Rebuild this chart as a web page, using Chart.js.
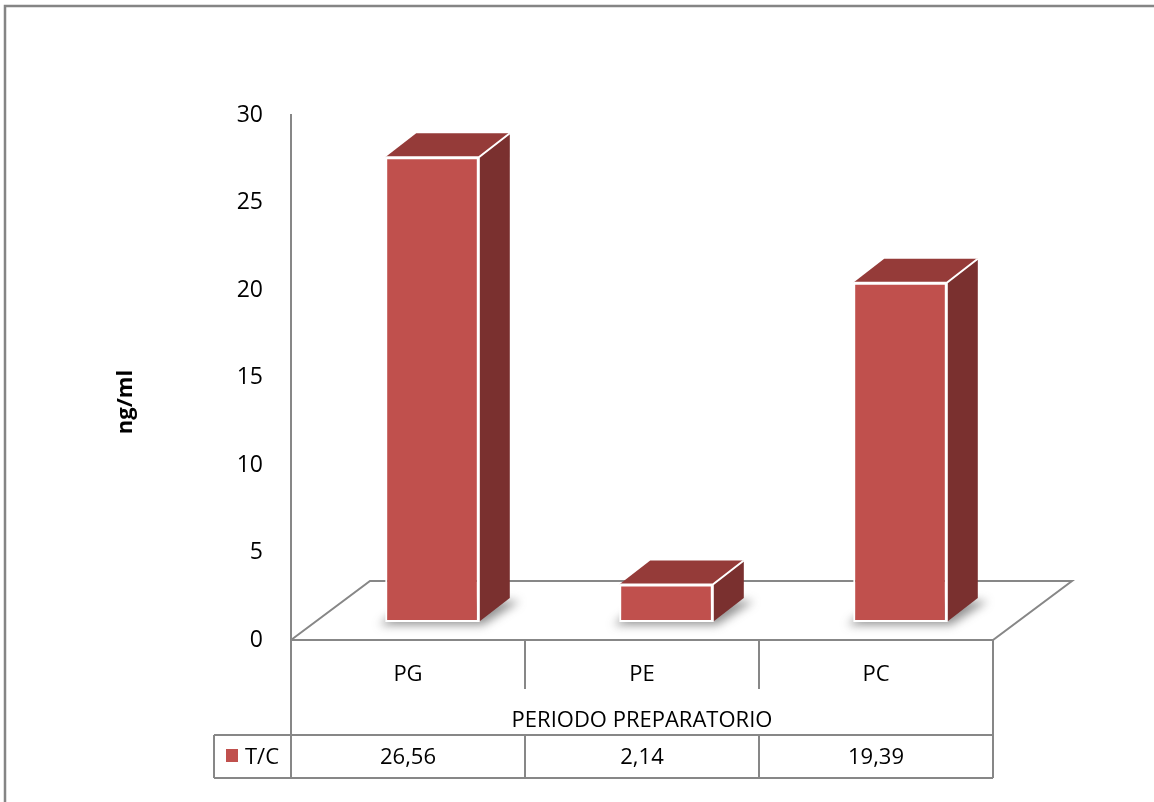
<!DOCTYPE html>
<html><head><meta charset="utf-8">
<script src="https://cdn.jsdelivr.net/npm/chart.js@4.4.1/dist/chart.umd.min.js"></script>
<style>html,body{margin:0;padding:0;background:#fff;overflow:hidden}#wrap{width:1154px;height:802px;position:relative}</style>
</head><body><div id="wrap"><canvas id="c" width="1154" height="802"></canvas></div>
<script>
// ---- data ----
const categories = ['PG', 'PE', 'PC'];
const groupLabel = 'PERIODO PREPARATORIO';
const seriesName = 'T/C';
const seriesValues = [26.56, 2.14, 19.39];
const yTicks = [0, 5, 10, 15, 20, 25, 30];
const yTitle = 'ng/ml';

// ---- style ----
const FONT = "'Open Sans', 'Liberation Sans', sans-serif";
const FRONT = '#C0504D', TOP = '#953B39', SIDE = '#7A302F';
const LINE = '#878787';
const D = { fx: 24, fy: -18, dx: 31, dy: -24, floorX: 79, floorY: -59 };
const fmt = v => v.toFixed(2).replace('.', ',');

const bar3d = {
  id: 'bar3d',
  beforeDatasetsDraw(chart) {
    const ctx = chart.ctx, a = chart.chartArea;
    ctx.save();
    ctx.strokeStyle = LINE; ctx.lineWidth = 2;
    ctx.beginPath();
    ctx.moveTo(a.left, a.bottom);
    ctx.lineTo(a.left + D.floorX, a.bottom + D.floorY);
    ctx.lineTo(a.right + D.floorX, a.bottom + D.floorY);
    ctx.lineTo(a.right, a.bottom);
    ctx.lineTo(a.left, a.bottom);
    ctx.stroke();
    const meta = chart.getDatasetMeta(0);
    ctx.filter = 'blur(5px)';
    ctx.fillStyle = 'rgba(60,60,60,0.55)';
    meta.data.forEach(el => {
      const p = el.getProps(['x', 'base', 'width'], true);
      const L = p.x - p.width / 2 + D.fx - 6, R = p.x + p.width / 2 + D.fx + 4, B = p.base + D.fy + 3;
      ctx.beginPath();
      ctx.moveTo(L, B); ctx.lineTo(R, B);
      ctx.lineTo(R + D.dx + 6, B + D.dy); ctx.lineTo(L + D.dx, B + D.dy);
      ctx.closePath(); ctx.fill();
    });
    ctx.filter = 'none';
    ctx.restore();
    ctx.save();
    ctx.translate(D.fx, D.fy);
  },
  afterDatasetsDraw(chart) {
    const ctx = chart.ctx;
    ctx.restore();
    const meta = chart.getDatasetMeta(0);
    ctx.save();
    meta.data.forEach(el => {
      const p = el.getProps(['x', 'y', 'base', 'width'], true);
      const L = p.x - p.width / 2 + D.fx, R = p.x + p.width / 2 + D.fx;
      const T = p.y + D.fy, B = p.base + D.fy;
      ctx.fillStyle = TOP;
      ctx.beginPath();
      ctx.moveTo(L, T); ctx.lineTo(R, T); ctx.lineTo(R + D.dx, T + D.dy); ctx.lineTo(L + D.dx, T + D.dy);
      ctx.closePath(); ctx.fill();
      ctx.fillStyle = SIDE;
      ctx.beginPath();
      ctx.moveTo(R, T); ctx.lineTo(R + D.dx, T + D.dy); ctx.lineTo(R + D.dx, B + D.dy); ctx.lineTo(R, B);
      ctx.closePath(); ctx.fill();
      ctx.strokeStyle = '#FFFFFF'; ctx.lineWidth = 2;
      ctx.beginPath();
      ctx.moveTo(L, T); ctx.lineTo(R, T); ctx.lineTo(R + D.dx, T + D.dy);
      ctx.moveTo(R, T); ctx.lineTo(R, B);
      ctx.stroke();
    });
    ctx.restore();
  },
  afterDraw(chart) {
    const ctx = chart.ctx, a = chart.chartArea, xs = chart.scales.x;
    ctx.save();
    ctx.strokeStyle = '#858585'; ctx.lineWidth = 2.5;
    ctx.beginPath(); ctx.moveTo(5, 802); ctx.lineTo(5, 6); ctx.lineTo(1154, 6); ctx.stroke();
    const rowTop = 735, rowBot = 778, boxL = 214, sepBot = 689;
    ctx.strokeStyle = LINE; ctx.lineWidth = 2;
    ctx.beginPath();
    ctx.moveTo(a.left, a.bottom); ctx.lineTo(a.left, rowBot);
    ctx.moveTo(a.right, a.bottom); ctx.lineTo(a.right, rowBot);
    ctx.moveTo(boxL, rowTop); ctx.lineTo(a.right, rowTop);
    ctx.moveTo(boxL, rowBot); ctx.lineTo(a.right, rowBot);
    ctx.moveTo(boxL, rowTop); ctx.lineTo(boxL, rowBot);
    for (let i = 1; i < categories.length; i++) {
      const xx = Math.round((xs.getPixelForValue(i - 1) + xs.getPixelForValue(i)) / 2);
      ctx.moveTo(xx, a.bottom); ctx.lineTo(xx, sepBot);
      ctx.moveTo(xx, rowTop); ctx.lineTo(xx, rowBot);
    }
    ctx.stroke();
    ctx.fillStyle = '#000'; ctx.font = '22px ' + FONT;
    ctx.textAlign = 'center'; ctx.textBaseline = 'middle';
    const ds = chart.data.datasets[0];
    ds.data.forEach((v, i) => ctx.fillText(fmt(v), xs.getPixelForValue(i), (rowTop + rowBot) / 2 + 1));
    ctx.fillStyle = ds.backgroundColor;
    ctx.fillRect(226, 749, 12, 13);
    ctx.fillStyle = '#000'; ctx.textAlign = 'left';
    ctx.fillText(ds.label, 245, (rowTop + rowBot) / 2 + 1);
    ctx.save();
    ctx.translate(126, 402); ctx.rotate(-Math.PI / 2);
    ctx.font = 'bold 22px ' + FONT; ctx.textAlign = 'center';
    ctx.fillText(yTitle, 0, 0);
    ctx.restore();
    ctx.restore();
  }
};

new Chart(document.getElementById('c'), {
  type: 'bar',
  data: {
    labels: categories,
    datasets: [{
      label: seriesName, data: seriesValues,
      backgroundColor: FRONT, borderColor: '#FFFFFF', borderWidth: 2, borderSkipped: false,
      categoryPercentage: 1, barPercentage: 0.4
    }]
  },
  options: {
    responsive: false, devicePixelRatio: 1, animation: false,
    layout: { padding: { left: 0, top: 115, right: 161, bottom: 0 } },
    plugins: { legend: { display: false }, tooltip: { enabled: false } },
    scales: {
      x: {
        grid: { display: false, drawTicks: false }, border: { display: false },
        ticks: { color: '#000', font: { family: FONT, size: 22 }, padding: 22, maxRotation: 0 },
        title: { display: true, text: groupLabel, color: '#000', font: { family: FONT, size: 22 }, padding: { top: 0, bottom: 68 } },
        afterFit: s => { s.height = 162; }
      },
      y: {
        min: 0, max: 30,
        afterBuildTicks: s => { s.ticks = yTicks.map(v => ({ value: v })); },
        grid: { display: false, drawTicks: false }, border: { display: true, color: LINE, width: 2 },
        ticks: { color: '#000', font: { family: FONT, size: 23 }, padding: 28 },
        afterFit: s => { s.width = 291; }
      }
    }
  },
  plugins: [bar3d]
});
</script></body></html>
